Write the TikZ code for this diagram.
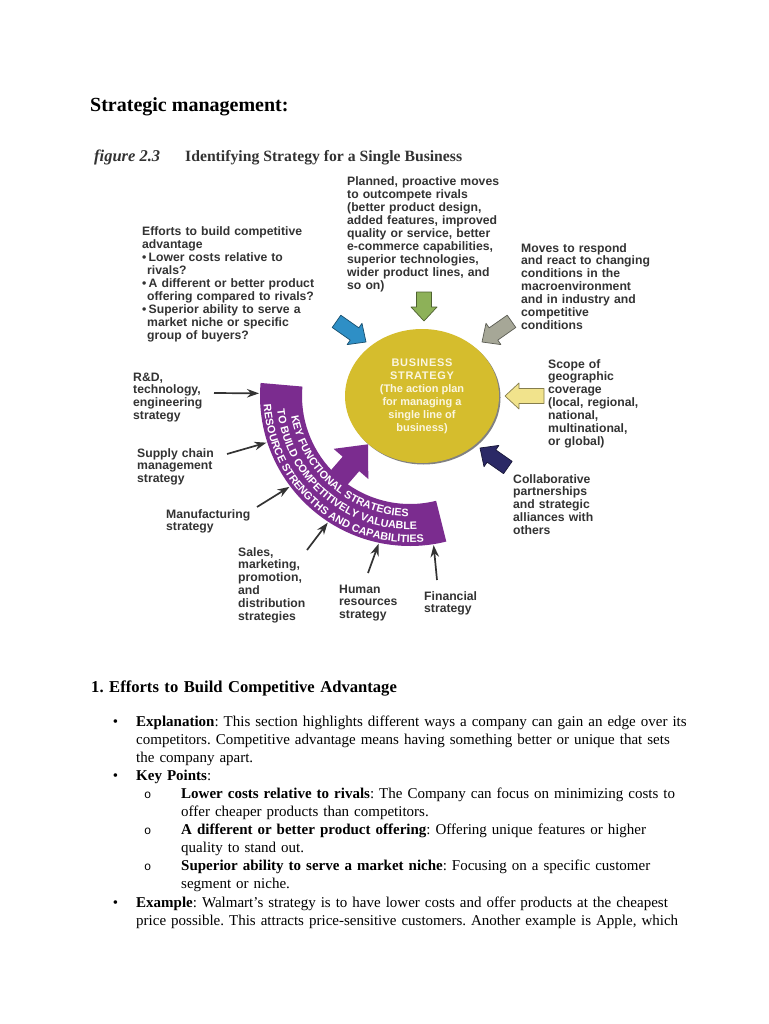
\documentclass[tikz,border=0pt]{standalone}
\usepackage{fontspec}
\setmainfont{Liberation Serif}
\setsansfont{Liberation Sans}
\newfontfamily\listmono{Liberation Mono}
\usepackage{tikz}
\usetikzlibrary{positioning, arrows.meta, calc, shapes.geometric, shadows, decorations.text}
\frenchspacing

\definecolor{lblInk}{HTML}{333333}
\definecolor{bandPurple}{HTML}{7B2C8F}
\definecolor{bizGold}{HTML}{D5BD2D}
\definecolor{bizText}{HTML}{FBF6E0}
\definecolor{arrBlue}{HTML}{2E8FC6}
\definecolor{arrGreen}{HTML}{8DB158}
\definecolor{arrGray}{HTML}{A6A797}
\definecolor{arrYellow}{HTML}{F1E38C}
\definecolor{arrNavy}{HTML}{2B2966}

\newcommand{\lblfont}{\sffamily\bfseries\fontsize{12.2pt}{12.9pt}\selectfont}
\newcommand{\bandfont}{\sffamily\bfseries\fontsize{10.8pt}{12pt}\selectfont}
\newcommand{\bodyfont}{\rmfamily\fontsize{15pt}{18.1pt}\selectfont}
\newcommand{\itemdot}{\leavevmode\llap{\textbullet\hspace{18pt}}}
\newcommand{\subdot}{\leavevmode\llap{{\listmono\fontsize{12pt}{12pt}\selectfont o}\hspace{30pt}}}

% fat arrow pointing at the business circle: colour, tip, direction, length
\newcommand{\fatarrow}[4]{%
  \begin{scope}[shift={#2}, rotate=#3]
    \filldraw[fill=#1, draw=#1!55!black, line width=0.7pt, line join=round]
      (0,0) -- (-14,13) -- (-14,7.5) -- (-#4,7.5) -- (-#4,-7.5) -- (-14,-7.5) -- (-14,-13) -- cycle;
  \end{scope}}

\begin{document}
\begin{tikzpicture}[x=1pt, y=-1pt, >=Stealth,
    lbl/.style={font=\lblfont, text=lblInk, align=left, text width=180pt, inner sep=0pt, anchor=base west},
    body/.style={font=\bodyfont, align=left, text width=620pt, inner sep=0pt, anchor=base west},
    feed/.style={line width=1.7pt, draw=lblInk, -{Stealth[length=12pt, width=8.5pt]}},
    bandtext/.style={decorate, decoration={text along path, text align=center,
      text color=white, text={|\bandfont|#1}}}]
  \useasboundingbox (0,0) rectangle (768,1024);
  \fill[white] (0,0) rectangle (768,1024);

  % page title and figure caption
  \node[anchor=base west, inner sep=0pt, font=\rmfamily\bfseries\fontsize{20pt}{24pt}\selectfont] (title) at (90,112) {Strategic management:};
  \node[anchor=base west, inner sep=0pt, text=lblInk, font=\rmfamily\bfseries\itshape\fontsize{16.5pt}{18pt}\selectfont] (fignum) at (94,162) {figure 2.3};
  \node[anchor=base west, inner sep=0pt, text=lblInk, font=\rmfamily\bfseries\fontsize{15.7pt}{18pt}\selectfont] (figtitle) at (185,162) {Identifying Strategy for a Single Business};

  % curved band of functional strategies
  \coordinate (hub) at (410,396);
  \fill[bandPurple] ($(hub)+(185:150)$) arc[start angle=185, end angle=76, radius=150]
    -- ++(76:-42) arc[start angle=76, end angle=185, radius=108] -- cycle;
  \fill[bandPurple] ($(hub)+(131:64)$) -- ($(hub)+(131:90)+(41:23)$) -- ($(hub)+(131:90)+(41:11)$)
    -- ($(hub)+(131:110)+(41:11)$) -- ($(hub)+(131:110)+(221:11)$) -- ($(hub)+(131:90)+(221:11)$)
    -- ($(hub)+(131:90)+(221:23)$) -- cycle;
  \path[bandtext={RESOURCE STRENGTHS AND CAPABILITIES}] ($(hub)+(185:146.5)$) arc[start angle=185, end angle=76, radius=146.5];
  \path[bandtext={TO BUILD COMPETITIVELY VALUABLE}] ($(hub)+(185:133.5)$) arc[start angle=185, end angle=76, radius=133.5];
  \path[bandtext={KEY FUNCTIONAL STRATEGIES}] ($(hub)+(185:120.5)$) arc[start angle=185, end angle=76, radius=120.5];

  % business strategy
  \node[ellipse, fill=bizGold, minimum width=154pt, minimum height=134pt, inner sep=0pt, align=center,
    text=bizText, font=\sffamily\bfseries\fontsize{11pt}{13pt}\selectfont,
    drop shadow={shadow xshift=1.5pt, shadow yshift=-1.5pt, fill=black!70, opacity=0.7}] (biz) at (422,396)
    {{\addfontfeature{LetterSpace=6}BUSINESS}\\{\addfontfeature{LetterSpace=6}STRATEGY}\\(The action plan\\for managing a\\single line of\\business)};

  \fatarrow{arrBlue}{(366,342)}{-35}{36}
  \fatarrow{arrGreen}{(424,321)}{-90}{29}
  \fatarrow{arrGray}{(482,342)}{-145}{36}
  \fatarrow{arrYellow}{(505,396)}{180}{39}
  \fatarrow{arrNavy}{(480,448)}{145}{34}

  % labels round the circle
  \node[lbl] (efforts) at (142,236) {Efforts to build competitive\\advantage\\
    \makebox[6.5pt][l]{•}Lower costs relative to\\\hspace*{5pt}rivals?\\
    \makebox[6.5pt][l]{•}A different or better product\\\hspace*{5pt}offering compared to rivals?\\
    \makebox[6.5pt][l]{•}Superior ability to serve a\\\hspace*{5pt}market niche or specific\\\hspace*{5pt}group of buyers?};
  \node[lbl] (planned) at (347,186) {Planned, proactive moves\\to outcompete rivals\\(better product design,\\added features, improved\\quality or service, better\\e-commerce capabilities,\\superior technologies,\\wider product lines, and\\so on)};
  \node[lbl] (moves) at (521,252) {Moves to respond\\and react to changing\\conditions in the\\macroenvironment\\and in industry and\\competitive\\conditions};
  \node[lbl] (scope) at (548,368) {Scope of\\geographic\\coverage\\(local, regional,\\national,\\multinational,\\or global)};
  \node[lbl] (collab) at (513,483) {Collaborative\\partnerships\\and strategic\\alliances with\\others};

  % functional strategies feeding the band
  \node[lbl] (rd) at (133,381) {R\&D,\\technology,\\engineering\\strategy};
  \node[lbl] (sc) at (137,457) {Supply chain\\management\\strategy};
  \node[lbl] (mf) at (166,518) {Manufacturing\\strategy};
  \node[lbl] (sl) at (238,556) {Sales,\\marketing,\\promotion,\\and\\distribution\\strategies};
  \node[lbl] (hr) at (339,593) {Human\\resources\\strategy};
  \node[lbl] (fn) at (424,600) {Financial\\strategy};

  \foreach \n/\a in {rd/181, sc/162, mf/143, sl/123, hr/102, fn/81}
    \coordinate (\n tip) at ($(hub)+(\a:151)$);
  \foreach \n/\s in {rd/{(81,12)}, sc/{(90,-3)}, mf/{(91,-11)}, sl/{(69,-6)}, hr/{(29,-20)}, fn/{(13,-20)}}
    \draw[feed] ([shift=\s]\n.base west) -- (\n tip);

  % text below the figure
  \node[body, font=\rmfamily\bfseries\fontsize{16.6pt}{20pt}\selectfont] (heading) at (91,692) {1. Efforts to Build Competitive Advantage};
  \node[body] (expl) at (136,726) {\itemdot\textbf{Explanation}: This section highlights different ways a company can gain an edge over its\\competitors. Competitive advantage means having something better or unique that sets\\the company apart.};
  \node[body] (keys) at (136,780.3) {\itemdot\textbf{Key Points}:};
  \node[body] (pts) at (181,798.4) {\subdot\textbf{Lower costs relative to rivals}: The Company can focus on minimizing costs to\\offer cheaper products than competitors.\\
    \subdot\textbf{A different or better product offering}: Offering unique features or higher\\quality to stand out.\\
    \subdot\textbf{Superior ability to serve a market niche}: Focusing on a specific customer\\segment or niche.};
  \node[body] (exmp) at (136,907) {\itemdot\textbf{Example}: Walmart’s strategy is to have lower costs and offer products at the cheapest\\price possible. This attracts price-sensitive customers. Another example is Apple, which};
\end{tikzpicture}
\end{document}
